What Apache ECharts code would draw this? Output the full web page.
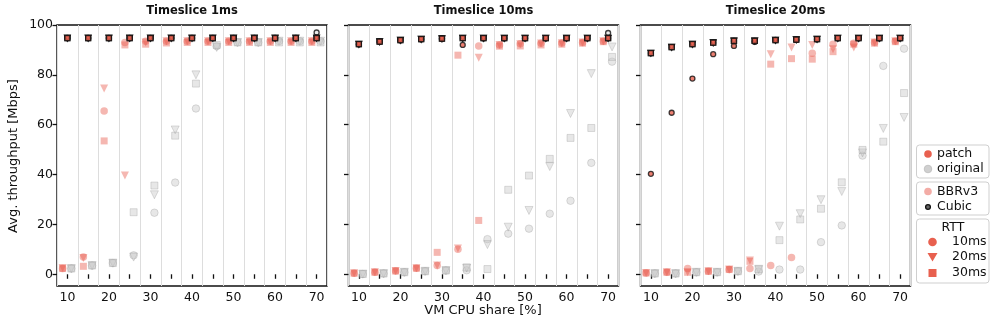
<!DOCTYPE html>
<html>
<head>
<meta charset="utf-8">
<script src="https://cdn.jsdelivr.net/npm/echarts@6/dist/echarts.min.js"></script>
<style>
  html, body { margin: 0; padding: 0; background: #fff; }
  #chart { width: 998px; height: 333px; }
</style>
</head>
<body>
<div id="chart"></div>
<script>
// VM CPU share [%]
const cpuShare = [10, 15, 20, 25, 30, 35, 40, 45, 50, 55, 60, 65, 70]
const panelTitles = ['Timeslice 1ms', 'Timeslice 10ms', 'Timeslice 20ms']
const rttNames = ['10ms', '20ms', '30ms']
const xTickValues = [10, 15, 20, 25, 30, 35, 40, 45, 50, 55, 60, 65, 70]
const xLabelValues = [10, 20, 30, 40, 50, 60, 70]
const yTickValues = [0, 20, 40, 60, 80, 100]

// rows: RTT 10ms, 20ms, 30ms
const ts1PatchBbr = [
  [2.3, 6.9, 65.5, 93, 93.5, 93.5, 93.5, 93.5, 93.5, 93.5, 93.5, 93.5, 93.5],
  [2.5, 6.5, 74.5, 39.6, 93, 93.5, 93.5, 93.5, 93.5, 93.5, 93.5, 93.5, 93.5],
  [2.3, 3.2, 53.5, 92, 92.3, 92.8, 93, 93, 93, 93, 93, 93, 93],
]
const ts1OrigBbr = [
  [2.3, 3.5, 4.5, 7.6, 24.7, 36.8, 66.5, 91.5, 93, 93, 93.5, 93.5, 93.5],
  [2.3, 3.5, 4.5, 6.9, 31.9, 57.9, 80, 91, 93, 93, 93.5, 93.5, 93.5],
  [2.3, 3.5, 4.5, 24.9, 35.6, 55.6, 76.5, 92, 93, 93, 93, 93, 93],
]
const ts1PatchCubic = [
  [94.8, 94.8, 94.8, 94.8, 94.8, 94.8, 94.8, 94.8, 94.8, 94.8, 94.8, 94.8, 94.8],
  [94.8, 94.8, 94.8, 94.8, 94.8, 94.8, 94.8, 94.8, 94.8, 94.8, 94.8, 94.8, 94.8],
  [94.7, 94.7, 94.7, 94.7, 94.7, 94.7, 94.7, 94.7, 94.7, 94.7, 94.7, 94.7, 94.7],
]
const ts1OrigCubic = [
  [94.7, 94.7, 94.7, 94.7, 94.7, 94.7, 94.7, 94.7, 94.7, 94.7, 94.7, 94.7, 97],
  [94.7, 94.7, 94.7, 94.7, 94.7, 94.7, 94.7, 94.7, 94.7, 94.7, 94.7, 94.7, 94.7],
  [94.7, 94.7, 94.7, 94.7, 94.7, 94.7, 94.7, 94.7, 94.7, 94.7, 94.7, 94.7, 94.7],
]

const ts10PatchBbr = [
  [0.4, 0.8, 1.3, 2.4, 3.5, 10, 91.6, 92, 92.5, 92.7, 92.8, 93, 93.5],
  [0.4, 0.8, 1.3, 2.4, 3.5, 10.3, 86.9, 92, 92.3, 92.6, 92.7, 93, 93.5],
  [0.4, 0.8, 1.3, 2.4, 8.8, 87.9, 21.6, 91.5, 91.6, 92, 92.3, 92.7, 93.3],
]
const ts10OrigBbr = [
  [0.1, 0.3, 0.8, 1.2, 1.5, 1.6, 14.1, 16.3, 18.3, 24.3, 29.5, 44.7, 85.3],
  [0.1, 0.3, 0.8, 1.2, 1.5, 2.5, 11.9, 18.9, 25.6, 43.2, 64.5, 80.5, 91.2],
  [0.1, 0.3, 0.8, 1.2, 1.5, 2.7, 2.1, 33.9, 39.6, 46.3, 54.7, 58.7, 87.2],
]
const ts10PatchCubic = [
  [92.3, 93.3, 93.9, 94.3, 94.5, 92, 94.7, 94.7, 94.7, 94.7, 94.7, 94.7, 94.7],
  [92.3, 93.3, 93.9, 94.3, 94.5, 94.7, 94.7, 94.7, 94.7, 94.7, 94.7, 94.7, 94.7],
  [92.3, 93.3, 93.9, 94.3, 94.5, 94.7, 94.7, 94.7, 94.7, 94.7, 94.7, 94.7, 94.7],
]
const ts10OrigCubic = [
  [92.3, 93.3, 93.9, 94.3, 94.5, 94.7, 94.7, 94.7, 94.7, 94.7, 94.7, 94.7, 96.8],
  [92.3, 93.3, 93.9, 94.3, 94.5, 94.7, 94.7, 94.7, 94.7, 94.7, 94.7, 94.7, 94.7],
  [92.3, 93.3, 93.9, 94.3, 94.5, 94.7, 94.7, 94.7, 94.7, 94.7, 94.7, 94.7, 94.7],
]

const ts20PatchBbr = [
  [0.5, 0.8, 2.3, 1.2, 1.9, 2.3, 3.5, 6.7, 88.7, 92.3, 92.7, 93, 93.5],
  [0.5, 0.8, 0.8, 1.2, 1.9, 5.5, 88.3, 91, 92, 90.3, 91, 93, 93.5],
  [0.5, 0.8, 0.8, 1.2, 1.9, 5.2, 84.3, 86.5, 86.3, 89.3, 92.3, 92.7, 93.3],
]
const ts20OrigBbr = [
  [0.3, 0.3, 0.8, 0.8, 1.2, 1.1, 1.9, 1.9, 12.9, 19.6, 47.6, 83.6, 90.5],
  [0.3, 0.3, 0.8, 0.8, 1.2, 2, 19.3, 24.3, 29.9, 33.2, 48.7, 58.5, 62.9],
  [0.3, 0.3, 0.8, 0.8, 1.2, 2, 13.7, 22, 26.3, 36.9, 49.9, 53.2, 72.7],
]
const ts20PatchCubic = [
  [40.3, 64.8, 78.5, 88.3, 91.6, 93.2, 94, 94, 94.3, 94.7, 94.7, 94.7, 94.7],
  [88.7, 91.1, 92.3, 92.9, 93.6, 93.6, 93.9, 94.1, 94.3, 94.7, 94.7, 94.7, 94.7],
  [88.7, 91.1, 92.3, 92.9, 93.6, 93.6, 93.9, 94.1, 94.3, 94.7, 94.7, 94.7, 94.7],
]
const ts20OrigCubic = [
  [88.7, 91.1, 92.3, 92.9, 93.6, 93.6, 93.9, 94.1, 94.3, 94.7, 94.7, 94.7, 94.7],
  [88.7, 91.1, 92.3, 92.9, 93.6, 93.6, 93.9, 94.1, 94.3, 94.7, 94.7, 94.7, 94.7],
  [88.7, 91.1, 92.3, 92.9, 93.6, 93.6, 93.9, 94.1, 94.3, 94.7, 94.7, 94.7, 94.7],
]

const panels = [
  { origBbr: ts1OrigBbr, patchBbr: ts1PatchBbr, origCubic: ts1OrigCubic, patchCubic: ts1PatchCubic },
  { origBbr: ts10OrigBbr, patchBbr: ts10PatchBbr, origCubic: ts10OrigCubic, patchCubic: ts10PatchCubic },
  { origBbr: ts20OrigBbr, patchBbr: ts20PatchBbr, origCubic: ts20OrigCubic, patchCubic: ts20PatchCubic },
]

const FONT = 'DejaVu Sans'
const RED = '#e8604f'
const gridLefts = [57, 348.5, 640.5]
const GRID_TOP = 25
const GRID_W = 270
const GRID_H = 261

const shapes = ['circle', 'triangle', 'rect']
const bbrSizes = [7.5, 8, 7]
const cubicSizes = [5, 5.5, 5]

// draw order: original bbr, patch bbr, original cubic, patch cubic
const groups = [
  { key: 'origBbr', dx: 0.95, sizes: bbrSizes,
    style: { color: 'rgba(200,200,200,0.55)', borderColor: 'rgba(150,150,150,0.5)', borderWidth: 0.8 } },
  { key: 'patchBbr', dx: -1.15, sizes: bbrSizes,
    style: { color: 'rgba(232,90,78,0.55)', borderWidth: 0 } },
  { key: 'origCubic', dx: 0, sizes: cubicSizes,
    style: { color: '#e6e6e6', borderColor: '#111', borderWidth: 1.3 } },
  { key: 'patchCubic', dx: 0, sizes: cubicSizes,
    style: { color: RED, borderColor: '#111', borderWidth: 1.3 } },
]

const grid = gridLefts.map((left) => ({
  left, top: GRID_TOP, width: GRID_W, height: GRID_H,
  show: true, borderColor: '#111', borderWidth: 1.4, backgroundColor: 'transparent',
}))

const xAxis = []
const yAxis = []
gridLefts.forEach((_, i) => {
  xAxis.push({
    type: 'value', gridIndex: i, min: 7.5, max: 72.5,
    axisLine: { show: false },
    axisTick: { show: true, customValues: xTickValues, length: 4.5, lineStyle: { color: '#111', width: 1.3 } },
    axisLabel: { show: true, customValues: xLabelValues, color: '#111', fontFamily: FONT, fontSize: 12.5, margin: 5 },
    splitLine: { show: false },
  })
  // helper axis only for the light vertical separators at 12.5, 17.5, ...
  xAxis.push({
    type: 'value', gridIndex: i, min: 7.5, max: 72.5, interval: 5,
    axisLine: { show: false }, axisTick: { show: false }, axisLabel: { show: false },
    splitLine: { show: true, lineStyle: { color: '#dddddd', width: 1 } },
  })
  yAxis.push({
    type: 'value', gridIndex: i, min: -4.7, max: 100,
    axisLine: { show: false },
    axisTick: { show: true, customValues: yTickValues, length: 4.5, lineStyle: { color: '#111', width: 1.3 } },
    axisLabel: { show: i === 0, customValues: yTickValues, color: '#111', fontFamily: FONT, fontSize: 12.5, margin: 4 },
    splitLine: { show: false },
  })
})

const series = []
panels.forEach((panel, p) => {
  groups.forEach((g) => {
    panel[g.key].forEach((vals, r) => {
      series.push({
        type: 'scatter',
        name: g.key + ' ' + rttNames[r],
        xAxisIndex: p * 2,
        yAxisIndex: p,
        symbol: shapes[r],
        symbolRotate: shapes[r] === 'triangle' ? 180 : 0,
        symbolSize: g.sizes[r],
        itemStyle: g.style,
        silent: true,
        animation: false,
        data: cpuShare.map((x, k) => [x + g.dx, vals[k]]),
      })
    })
  })
})

const txt = (x, y, text, extra) => ({
  type: 'text', x, y, silent: true,
  style: Object.assign({ text, fill: '#111', font: '12.5px "' + FONT + '"', textAlign: 'left', textVerticalAlign: 'middle' }, extra || {}),
})

const graphic = []
panelTitles.forEach((t, i) => {
  graphic.push(txt(gridLefts[i] + GRID_W / 2, 11, t, { textAlign: 'center', font: 'bold 11.5px "' + FONT + '"' }))
})
graphic.push(txt(483, 311, 'VM CPU share [%]', { textAlign: 'center', font: '13px "' + FONT + '"' }))
graphic.push({
  type: 'text', x: 14, y: 156, rotation: Math.PI / 2, silent: true,
  style: { text: 'Avg. throughput [Mbps]', fill: '#111', font: '13px "' + FONT + '"', textAlign: 'center', textVerticalAlign: 'middle' },
})

// legend boxes
const boxes = [[145, 33], [182, 33], [219, 64]]
boxes.forEach(([y, h]) => {
  graphic.push({
    type: 'rect', silent: true,
    shape: { x: 916.5, y, width: 72.5, height: h, r: 3 },
    style: { fill: '#fff', stroke: '#cfcfcf', lineWidth: 1 },
  })
})
graphic.push({ type: 'circle', silent: true, shape: { cx: 928, cy: 154, r: 3.8 }, style: { fill: RED } })
graphic.push(txt(937, 154, 'patch'))
graphic.push({ type: 'circle', silent: true, shape: { cx: 928, cy: 169, r: 3.8 }, style: { fill: '#d0d0d0', stroke: '#bdbdbd', lineWidth: 0.8 } })
graphic.push(txt(937, 169, 'original'))
graphic.push({ type: 'circle', silent: true, shape: { cx: 928, cy: 191.5, r: 3.8 }, style: { fill: 'rgba(232,90,78,0.5)' } })
graphic.push(txt(937, 191.5, 'BBRv3'))
graphic.push({ type: 'circle', silent: true, shape: { cx: 928, cy: 207, r: 2.4 }, style: { fill: '#666', stroke: '#111', lineWidth: 1.3 } })
graphic.push(txt(937, 207, 'Cubic'))
graphic.push(txt(953, 228, 'RTT', { textAlign: 'center' }))
graphic.push({ type: 'circle', silent: true, shape: { cx: 932.5, cy: 242, r: 4.3 }, style: { fill: RED } })
graphic.push(txt(952, 242, '10ms'))
graphic.push({ type: 'polygon', silent: true, shape: { points: [[927.5, 253], [937.5, 253], [932.5, 261.5]] }, style: { fill: RED } })
graphic.push(txt(952, 257, '20ms'))
graphic.push({ type: 'rect', silent: true, shape: { x: 928.5, y: 269, width: 8, height: 8 }, style: { fill: RED } })
graphic.push(txt(952, 273, '30ms'))

const chart = echarts.init(document.getElementById('chart'), null, { renderer: 'canvas' })
chart.setOption({
  animation: false,
  backgroundColor: '#fff',
  grid,
  xAxis,
  yAxis,
  series,
  graphic,
})
</script>
</body>
</html>
